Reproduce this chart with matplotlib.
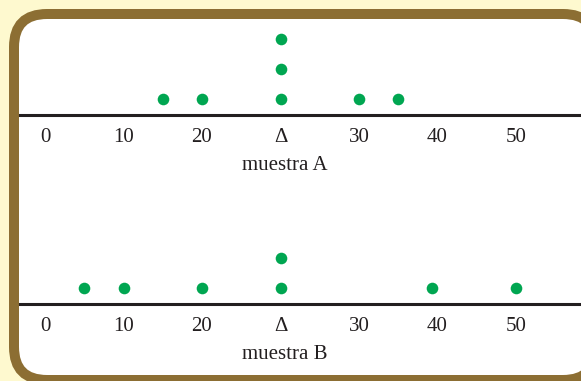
import matplotlib.pyplot as plt
from matplotlib.patches import FancyBboxPatch

# posiciones sobre el eje (las marcas van igualmente espaciadas: 0, 10, 20, Δ, 30, 40, 50)
tick_pos = [0, 1, 2, 3, 4, 5, 6]
tick_labels = ['0', '10', '20', 'Δ', '30', '40', '50']

muestra_A = [1.5, 2, 3, 3, 3, 4, 4.5]
muestra_B = [0.5, 1, 2, 3, 3, 4.93, 6]
nombres = ['muestra A', 'muestra B']

verde = '#00a651'
tinta = '#231f20'
W, H = 581, 381

fig = plt.figure(figsize=(W / 100, H / 100), dpi=100, facecolor='#fef9cf')

# marco redondeado
bg = fig.add_axes([0, 0, 1, 1])
bg.set_xlim(0, W)
bg.set_ylim(H, 0)
bg.axis('off')
marco = FancyBboxPatch((14, 14), 582, 366, boxstyle='round,pad=0,rounding_size=33',
                       facecolor='white', edgecolor='#8c6e33', linewidth=7.2)
bg.add_patch(marco)

ejes_y = [115, 304]  # posicion de la linea (px desde arriba)

for datos, nombre, y_eje in zip([muestra_A, muestra_B], nombres, ejes_y):
    ax = fig.add_axes([20 / W, (H - y_eje) / H, 561 / W, 90 / H])
    ax.patch.set_alpha(0)
    ax.set_xlim((20 - 45) / 78.5, (581 - 45) / 78.5)
    ax.set_ylim(0, 3)

    # apilar puntos repetidos
    vistos = {}
    xs, ys = [], []
    for v in datos:
        k = vistos.get(v, 0)
        vistos[v] = k + 1
        xs.append(v)
        ys.append(0.55 + k)
    ax.scatter(xs, ys, s=70, color=verde, linewidths=0, clip_on=False)

    for s in ['top', 'right', 'left']:
        ax.spines[s].set_visible(False)
    ax.spines['bottom'].set_linewidth(2.2)
    ax.spines['bottom'].set_color(tinta)
    ax.set_yticks([])
    ax.set_xticks(tick_pos)
    ax.set_xticklabels(tick_labels, fontfamily='Liberation Serif', fontsize=15, color=tinta)
    ax.tick_params(axis='x', length=0, pad=9.5)

    ax.annotate(nombre, xy=(3.05, 0), xycoords=('data', 'axes fraction'),
                xytext=(0, -55), textcoords='offset pixels', ha='center', va='baseline',
                fontfamily='Liberation Serif', fontsize=15, color=tinta)

fig.savefig('out.png', dpi=100, facecolor=fig.get_facecolor())
